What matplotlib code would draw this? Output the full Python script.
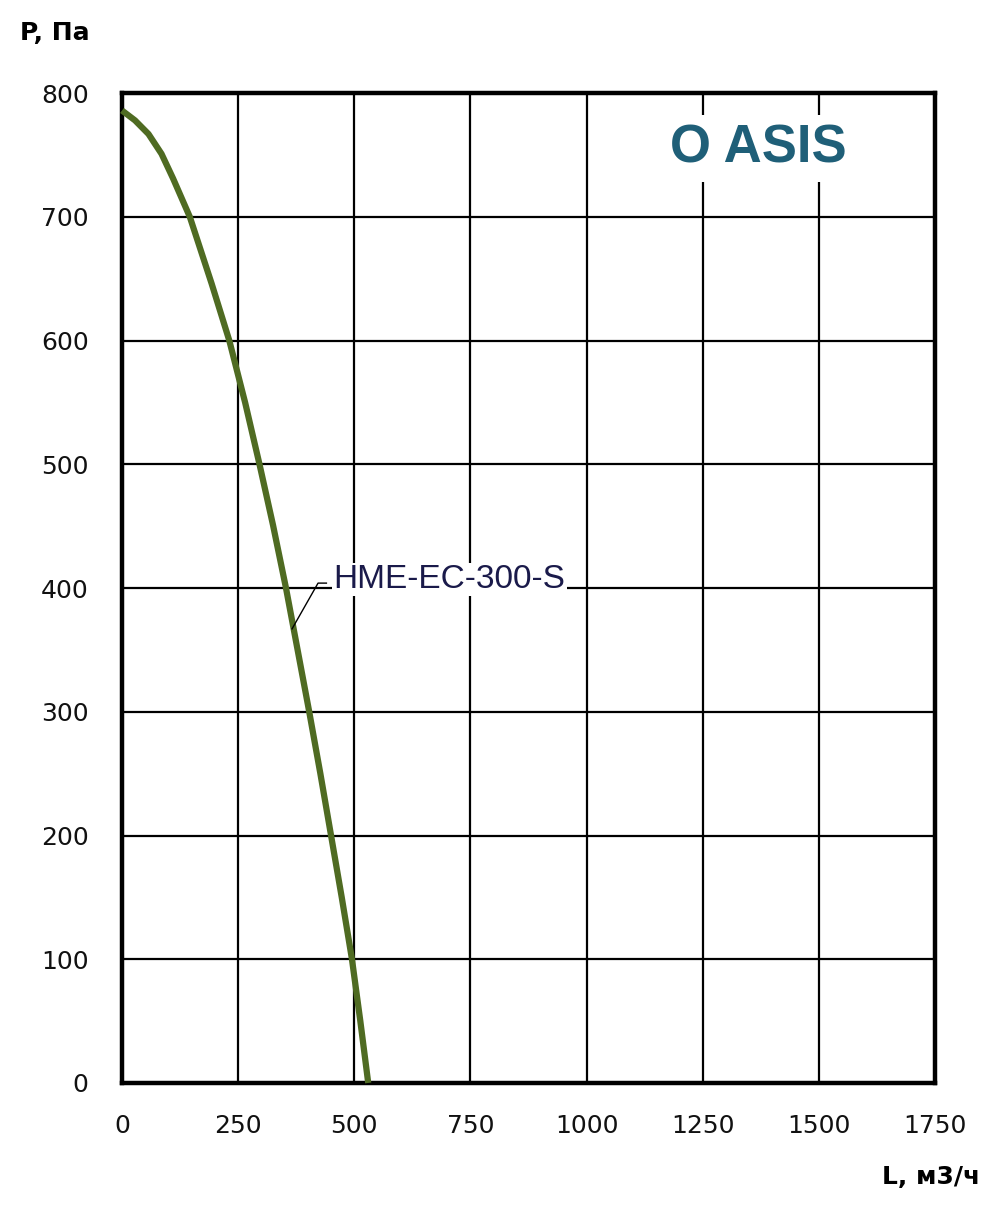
import numpy as np
import matplotlib.pyplot as plt

# характеристика вентилятора HME-EC-300-S
flow = [0, 28, 57, 85, 110, 146, 193, 231, 265, 296, 325, 353, 378, 403,
        427, 450, 473, 495, 513, 530]
pressure = [786, 778, 767, 751, 731, 700, 646, 600, 550, 500, 451, 400, 350, 300,
            250, 200, 150, 100, 50, 0]

x_ticks = [0, 250, 500, 750, 1000, 1250, 1500, 1750]
y_ticks = [0, 100, 200, 300, 400, 500, 600, 700, 800]

curve_label = "HME-EC-300-S"
brand = "O ASIS"


def main():
    fig = plt.figure(figsize=(10, 12.1), dpi=100)
    ax = fig.add_axes([0.122, 0.105, 0.813, 0.818])

    ax.set_xlim(0, 1750)
    ax.set_ylim(0, 800)
    ax.set_xticks(x_ticks)
    ax.set_yticks(y_ticks)
    ax.grid(True, color="black", linewidth=1.6)
    ax.set_axisbelow(True)
    for s in ax.spines.values():
        s.set_linewidth(3.2)
        s.set_color("black")
    ax.tick_params(length=0, labelsize=18, labelcolor="#111111")
    ax.tick_params(axis="y", pad=24)
    ax.tick_params(axis="x", pad=22)

    ax.plot(flow, pressure, color="#4f6b22", linewidth=4.5, zorder=3, clip_on=False,
            solid_capstyle="butt", solid_joinstyle="round")

    # подпись кривой с выноской
    ax.plot([366, 422, 440], [367, 404, 404], color="black", linewidth=1.0, zorder=4)
    ax.text(455, 407, curve_label, fontsize=24, family="Liberation Sans",
            color="#1a1a4a", va="center", ha="left", zorder=5,
            bbox=dict(facecolor="white", edgecolor="none", pad=1))

    ax.text(1370, 755, brand, fontsize=38, fontweight="bold", family="Liberation Sans",
            color="#1f5f78", ha="center", va="center", zorder=5,
            bbox=dict(facecolor="white", edgecolor="none", pad=6))

    fig.text(0.02, 0.973, "P, Па", fontsize=18, fontweight="bold", ha="left", va="center")
    fig.text(0.98, 0.027, "L, м3/ч", fontsize=18, fontweight="bold", ha="right", va="center")

    fig.savefig("out.png", dpi=100, facecolor="white")


if __name__ == "__main__":
    main()
